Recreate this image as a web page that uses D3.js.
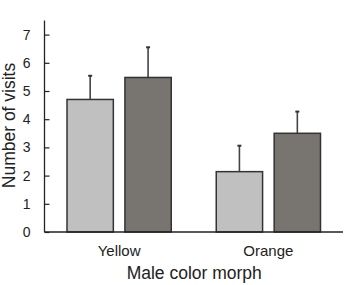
<!DOCTYPE html>
<html>
<head>
<meta charset="utf-8">
<script src="https://cdn.jsdelivr.net/npm/d3@7"></script>
<style>
    body { margin: 0; background: #fff; }
    text { font-family: "Liberation Sans", Arial, sans-serif; fill: #222; }
</style>
</head>
<body>
<div id="chart"></div>
<script>
const categories = ["Yellow", "Orange"];
const series = ["light", "dark"];
const means = [[4.7, 5.48], [2.14, 3.5]];
const errors = [[0.84, 1.07], [0.92, 0.77]];
const yTicks = [0, 1, 2, 3, 4, 5, 6, 7];

const margin = { top: 20.5, right: 3, bottom: 53, left: 44.5 };
const width = 346, height = 285;
const innerW = width - margin.left - margin.right;
const innerH = height - margin.top - margin.bottom;

const colors = { light: "#c0c0c0", dark: "#787571" };

const svg = d3.select("#chart").append("svg")
    .attr("width", width)
    .attr("height", height);

const g = svg.append("g")
    .attr("transform", `translate(${margin.left},${margin.top})`);

// Scales
const x0 = d3.scaleBand()
    .domain(categories)
    .range([0, innerW])
    .padding(0);

const x1 = d3.scaleBand()
    .domain(series)
    .range([22.5, x0.bandwidth() - 22.5])
    .paddingInner(0.2);

const y = d3.scaleLinear()
    .domain([0, 7.5])
    .range([innerH, 0]);

// Bars + error bars
const rows = [];
categories.forEach((c, i) => {
    series.forEach((s, j) => {
        rows.push({ cat: c, ser: s, mean: means[i][j], err: errors[i][j] });
    });
});

const bars = g.selectAll(".bar")
    .data(rows)
    .enter()
    .append("g")
    .attr("transform", d => `translate(${x0(d.cat) + x1(d.ser)},0)`);

bars.append("line")
    .attr("x1", x1.bandwidth() / 2)
    .attr("x2", x1.bandwidth() / 2)
    .attr("y1", d => y(d.mean))
    .attr("y2", d => y(d.mean + d.err))
    .attr("stroke", "#444")
    .attr("stroke-width", 1.6);

bars.append("line")
    .attr("x1", x1.bandwidth() / 2 - 2)
    .attr("x2", x1.bandwidth() / 2 + 2)
    .attr("y1", d => y(d.mean + d.err))
    .attr("y2", d => y(d.mean + d.err))
    .attr("stroke", "#333")
    .attr("stroke-width", 2);

bars.append("rect")
    .attr("x", 0)
    .attr("y", d => y(d.mean))
    .attr("width", x1.bandwidth())
    .attr("height", d => innerH - y(d.mean))
    .attr("fill", d => colors[d.ser])
    .attr("stroke", "#333")
    .attr("stroke-width", 1.5);

// Y axis
const yAxis = g.append("g")
    .call(d3.axisRight(y).tickValues(yTicks).tickSize(5).tickFormat(d3.format("d")));
yAxis.select(".domain")
    .attr("stroke", "#222")
    .attr("stroke-width", 1.3)
    .attr("d", `M0,0V${innerH}`);
yAxis.selectAll(".tick line").attr("stroke", "#222").attr("stroke-width", 1.2);
yAxis.selectAll(".tick text")
    .attr("x", -14)
    .attr("text-anchor", "end")
    .attr("font-size", 14)
    .attr("fill", "#222");

// X axis baseline
g.append("line")
    .attr("x1", 0)
    .attr("x2", innerW)
    .attr("y1", innerH)
    .attr("y2", innerH)
    .attr("stroke", "#222")
    .attr("stroke-width", 1.3);

// Category labels
g.selectAll(".cat-label")
    .data(categories)
    .enter()
    .append("text")
    .attr("x", d => x0(d) + x0.bandwidth() / 2)
    .attr("y", innerH + 23.5)
    .attr("text-anchor", "middle")
    .attr("font-size", 15)
    .text(d => d);

// Axis titles
svg.append("text")
    .attr("x", margin.left + innerW / 2 + 0.5)
    .attr("y", 279)
    .attr("text-anchor", "middle")
    .attr("font-size", 17.5)
    .text("Male color morph");

svg.append("text")
    .attr("transform", `translate(15,125.5) rotate(-90)`)
    .attr("text-anchor", "middle")
    .attr("font-size", 17.5)
    .text("Number of visits");
</script>
</body>
</html>
